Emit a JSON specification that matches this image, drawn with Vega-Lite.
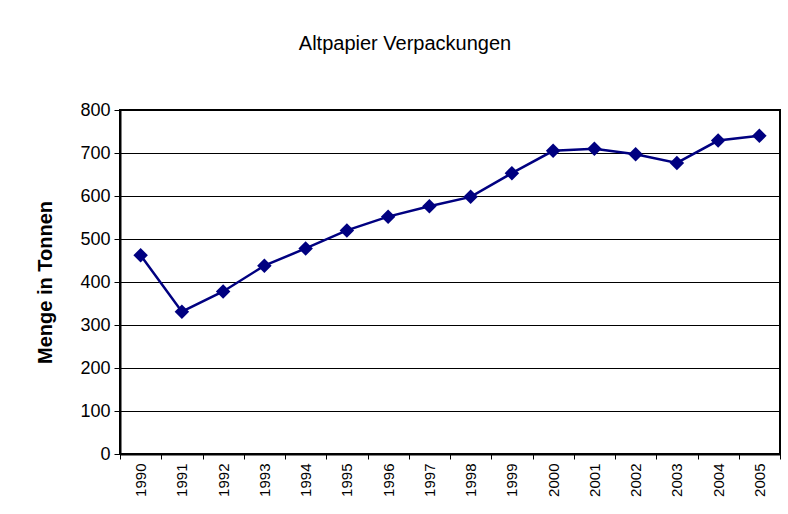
{
  "$schema": "https://vega.github.io/schema/vega-lite/v6.json",
  "autosize": "none",
  "width": 660,
  "height": 344,
  "padding": {"left": 120, "top": 110, "right": 8, "bottom": 60},
  "background": "white",
  "title": {
    "text": "Altpapier Verpackungen",
    "font": "Liberation Sans",
    "fontSize": 20,
    "fontWeight": "normal",
    "color": "#000000",
    "anchor": "middle",
    "frame": "group",
    "offset": 47,
    "dx": -45
  },
  "data": {
    "values": [
      {"Jahr": "1990", "Menge": 462},
      {"Jahr": "1991", "Menge": 331},
      {"Jahr": "1992", "Menge": 378},
      {"Jahr": "1993", "Menge": 438},
      {"Jahr": "1994", "Menge": 478},
      {"Jahr": "1995", "Menge": 520},
      {"Jahr": "1996", "Menge": 552},
      {"Jahr": "1997", "Menge": 576},
      {"Jahr": "1998", "Menge": 598},
      {"Jahr": "1999", "Menge": 653},
      {"Jahr": "2000", "Menge": 705},
      {"Jahr": "2001", "Menge": 710},
      {"Jahr": "2002", "Menge": 697},
      {"Jahr": "2003", "Menge": 677},
      {"Jahr": "2004", "Menge": 729},
      {"Jahr": "2005", "Menge": 740}
    ]
  },
  "encoding": {
    "x": {
      "field": "Jahr",
      "type": "ordinal",
      "scale": {"type": "band", "paddingInner": 0, "paddingOuter": 0},
      "axis": {
        "title": null,
        "labelAngle": -90,
        "labelAlign": "right",
        "labelBaseline": "middle",
        "labelFont": "Liberation Sans",
        "labelFontSize": 15,
        "labelColor": "#000000",
        "labelPadding": 4,
        "tickBand": "extent",
        "tickSize": 5,
        "tickColor": "#000000",
        "domainColor": "#000000",
        "domainWidth": 2,
        "grid": false
      }
    },
    "y": {
      "field": "Menge",
      "type": "quantitative",
      "scale": {"domain": [0, 800], "nice": false},
      "axis": {
        "title": "Menge in Tonnen",
        "titleFont": "Liberation Sans",
        "titleFontSize": 20,
        "titleFontWeight": "bold",
        "titleColor": "#000000",
        "titlePadding": 24,
        "values": [0, 100, 200, 300, 400, 500, 600, 700, 800],
        "labelFont": "Liberation Sans",
        "labelFontSize": 18,
        "labelColor": "#000000",
        "labelPadding": 4,
        "tickSize": 6,
        "tickColor": "#000000",
        "domainColor": "#000000",
        "domainWidth": 2,
        "grid": true,
        "gridColor": "#000000",
        "gridWidth": 1
      }
    }
  },
  "layer": [
    {
      "mark": {"type": "line", "color": "#000080", "strokeWidth": 2.5}
    },
    {
      "mark": {"type": "point", "shape": "diamond", "filled": true, "color": "#000080", "size": 210, "opacity": 1}
    }
  ],
  "config": {
    "view": {"stroke": "#000000", "strokeWidth": 2}
  }
}
